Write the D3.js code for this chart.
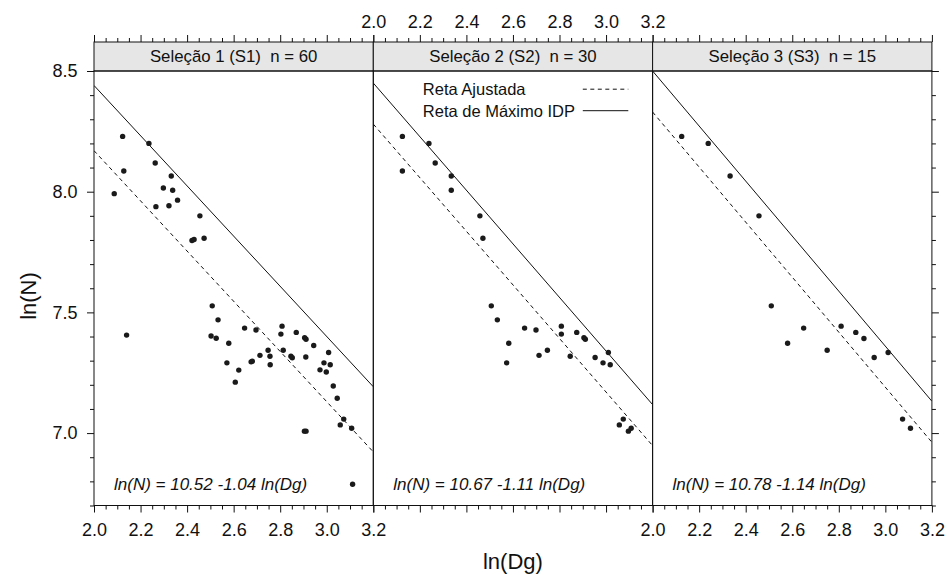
<!DOCTYPE html>
<html>
<head>
<meta charset="utf-8">
<script src="https://cdn.jsdelivr.net/npm/d3@7"></script>
<style>
  body { margin: 0; background: #fff; }
  svg text { font-family: Arial, "Liberation Sans", sans-serif; fill: #111; }
</style>
</head>
<body>
<svg id="chart" width="949" height="575"></svg>
<script>

var stripLabels = ["Seleção 1 (S1)  n = 60", "Seleção 2 (S2)  n = 30", "Seleção 3 (S3)  n = 15"];
var equations = ["ln(N) = 10.52 -1.04 ln(Dg)", "ln(N) = 10.67 -1.11 ln(Dg)", "ln(N) = 10.78 -1.14 ln(Dg)"];
var legendLabels = ["Reta Ajustada", "Reta de Máximo IDP"];

// intercepts / slopes of the two lines per panel
var slopes = [-1.04, -1.11, -1.14];
var maxIntercepts = [10.52, 10.67, 10.78];
var fitIntercepts = [10.25, 10.50, 10.61];

var xDomain = [2.0, 3.2];
var yDomain = [6.7, 8.5];
var xTicks = [2.0, 2.2, 2.4, 2.6, 2.8, 3.0, 3.2];
var yTicks = [7.0, 7.5, 8.0, 8.5];

var s1Dg = [2.123, 2.236, 2.263, 2.128, 2.332, 2.298, 2.338, 2.087, 2.359, 2.266, 2.322, 2.455, 2.421, 2.430, 2.473,
            2.508, 2.140, 2.533, 2.647, 2.696, 2.808, 2.803, 2.869, 2.905, 2.911, 2.944, 2.503, 2.525, 2.579, 3.008,
            2.748, 2.813, 2.713, 2.756, 2.846, 2.852, 2.910, 2.571, 2.622, 2.607, 2.675, 2.680, 2.757, 2.988, 3.015,
            2.971, 2.998, 3.028, 3.045, 3.073, 3.058, 3.107, 2.904, 2.911, 3.111];
var s1N = [8.229, 8.200, 8.119, 8.086, 8.065, 8.015, 8.006, 7.992, 7.965, 7.938, 7.942, 7.900, 7.798, 7.802, 7.807,
           7.527, 7.406, 7.469, 7.435, 7.427, 7.443, 7.410, 7.417, 7.395, 7.389, 7.363, 7.402, 7.393, 7.372, 7.334,
           7.343, 7.343, 7.322, 7.318, 7.318, 7.312, 7.315, 7.291, 7.261, 7.211, 7.295, 7.298, 7.283, 7.291, 7.283,
           7.262, 7.253, 7.195, 7.144, 7.058, 7.034, 7.020, 7.008, 7.008, 6.788];

var s2Dg = [2.125, 2.239, 2.266, 2.125, 2.335, 2.335, 2.458, 2.471, 2.507, 2.533, 2.650, 2.699, 2.808, 2.808, 2.874,
            2.905, 2.911, 2.582, 3.010, 2.712, 2.748, 2.846, 2.953, 2.573, 2.987, 3.018, 3.074, 3.057, 3.108, 3.096];
var s2N = [8.229, 8.200, 8.119, 8.086, 8.065, 8.006, 7.900, 7.807, 7.527, 7.469, 7.435, 7.427, 7.443, 7.410, 7.417,
           7.395, 7.389, 7.372, 7.334, 7.322, 7.343, 7.318, 7.313, 7.291, 7.291, 7.283, 7.058, 7.034, 7.020, 7.008];

var s3Dg = [2.125, 2.239, 2.333, 2.457, 2.510, 2.649, 2.810, 2.873, 2.908, 2.580, 3.012, 2.750, 2.952, 3.074, 3.108];
var s3N = [8.229, 8.200, 8.065, 7.900, 7.527, 7.435, 7.443, 7.417, 7.392, 7.372, 7.334, 7.343, 7.313, 7.058, 7.020];

var dgSeries = [s1Dg, s2Dg, s3Dg];
var nSeries = [s1N, s2N, s3N];

// layout
var left = 94, panelW = 279.3;
var stripTop = 42, plotTop = 71, plotBottom = 505.5;
var majorLen = 7, minorLen = 4;

var svg = d3.select("#chart");

var y = d3.scaleLinear().domain(yDomain).range([plotBottom, plotTop]);

var xMinor = d3.range(0, 25).map(function(i) { return 2.0 + i * 0.05; })
    .filter(function(v) { return Math.abs(v * 5 - Math.round(v * 5)) > 1e-6; });
var yMinor = d3.range(0, 19).map(function(i) { return 6.7 + i * 0.1; })
    .filter(function(v) { return Math.abs(v * 2 - Math.round(v * 2)) > 1e-6; });

var fmt = d3.format(".1f");

function cleanAxis(g) {
    g.select(".domain").remove();
    g.selectAll(".tick line").attr("stroke", "#111");
    g.selectAll(".tick text").attr("font-size", "18px").attr("fill", "#111");
}

svg.append("defs").selectAll("clipPath")
    .data(stripLabels)
    .enter().append("clipPath")
    .attr("id", function(d, i) { return "clip" + i; })
    .append("rect")
    .attr("x", function(d, i) { return left + i * panelW; })
    .attr("y", plotTop)
    .attr("width", panelW)
    .attr("height", plotBottom - plotTop);

stripLabels.forEach(function(label, i) {
    var x0 = left + i * panelW;
    var x = d3.scaleLinear().domain(xDomain).range([x0, x0 + panelW]);
    var g = svg.append("g").attr("class", "panel");

    // strip
    g.append("rect")
        .attr("x", x0).attr("y", stripTop)
        .attr("width", panelW).attr("height", plotTop - stripTop)
        .attr("fill", "#e6e6e6").attr("stroke", "#111").attr("stroke-width", 1);
    g.append("text")
        .attr("x", x0 + panelW / 2).attr("y", plotTop - 9)
        .attr("text-anchor", "middle")
        .attr("font-size", "16.8px")
        .style("white-space", "pre")
        .text(label);

    // lines
    var lineG = g.append("g").attr("clip-path", "url(#clip" + i + ")");
    lineG.append("line")
        .attr("x1", x(xDomain[0])).attr("y1", y(maxIntercepts[i] + slopes[i] * xDomain[0]))
        .attr("x2", x(xDomain[1])).attr("y2", y(maxIntercepts[i] + slopes[i] * xDomain[1]))
        .attr("stroke", "#111").attr("stroke-width", 1);
    lineG.append("line")
        .attr("x1", x(xDomain[0])).attr("y1", y(fitIntercepts[i] + slopes[i] * xDomain[0]))
        .attr("x2", x(xDomain[1])).attr("y2", y(fitIntercepts[i] + slopes[i] * xDomain[1]))
        .attr("stroke", "#111").attr("stroke-width", 1)
        .attr("stroke-dasharray", "4,3.5");

    // points
    g.selectAll("circle")
        .data(dgSeries[i].map(function(d, j) { return [d, nSeries[i][j]]; }))
        .enter().append("circle")
        .attr("cx", function(d) { return x(d[0]); })
        .attr("cy", function(d) { return y(d[1]); })
        .attr("r", 2.7)
        .attr("fill", "#1a1a1a");

    // equation
    g.append("text")
        .attr("x", x0 + 20).attr("y", 490)
        .attr("font-size", "17px")
        .attr("font-style", "italic")
        .text(equations[i]);

    // panel border
    g.append("rect")
        .attr("x", x0).attr("y", plotTop)
        .attr("width", panelW).attr("height", plotBottom - plotTop)
        .attr("fill", "none").attr("stroke", "#111").attr("stroke-width", 1);

    // bottom axis (labels on panels 1 and 3)
    g.append("g").attr("transform", "translate(0," + plotBottom + ")")
        .call(d3.axisBottom(x).tickValues(xTicks).tickSize(majorLen).tickPadding(11)
            .tickFormat(i === 1 ? "" : fmt))
        .call(cleanAxis);
    g.append("g").attr("transform", "translate(0," + plotBottom + ")")
        .call(d3.axisBottom(x).tickValues(xMinor).tickSize(minorLen).tickFormat(""))
        .call(cleanAxis);

    // top axis (labels on panel 2)
    g.append("g").attr("transform", "translate(0," + stripTop + ")")
        .call(d3.axisTop(x).tickValues(xTicks).tickSize(majorLen).tickPadding(7)
            .tickFormat(i === 1 ? fmt : ""))
        .call(cleanAxis);
    g.append("g").attr("transform", "translate(0," + stripTop + ")")
        .call(d3.axisTop(x).tickValues(xMinor).tickSize(minorLen).tickFormat(""))
        .call(cleanAxis);

    if (i === 0) {
        g.append("g").attr("transform", "translate(" + x0 + ",0)")
            .call(d3.axisLeft(y).tickValues(yTicks).tickSize(majorLen).tickPadding(9.5).tickFormat(fmt))
            .call(cleanAxis);
        g.append("g").attr("transform", "translate(" + x0 + ",0)")
            .call(d3.axisLeft(y).tickValues(yMinor).tickSize(minorLen).tickFormat(""))
            .call(cleanAxis);
    }
    if (i === 2) {
        g.append("g").attr("transform", "translate(" + (x0 + panelW) + ",0)")
            .call(d3.axisRight(y).tickValues(yTicks).tickSize(majorLen).tickFormat(""))
            .call(cleanAxis);
        g.append("g").attr("transform", "translate(" + (x0 + panelW) + ",0)")
            .call(d3.axisRight(y).tickValues(yMinor).tickSize(minorLen).tickFormat(""))
            .call(cleanAxis);
    }

    // legend in middle panel
    if (i === 1) {
        var leg = g.append("g");
        var legY = [95, 116.5];
        leg.selectAll("text")
            .data(legendLabels)
            .enter().append("text")
            .attr("x", x0 + 49.5)
            .attr("y", function(d, k) { return legY[k]; })
            .attr("font-size", "16.5px")
            .text(function(d) { return d; });
        leg.selectAll("line")
            .data(legendLabels)
            .enter().append("line")
            .attr("x1", x0 + 209.5).attr("x2", x0 + 255)
            .attr("y1", function(d, k) { return legY[k] - 5.8; })
            .attr("y2", function(d, k) { return legY[k] - 5.8; })
            .attr("stroke", "#111").attr("stroke-width", 1)
            .attr("stroke-dasharray", function(d, k) { return k === 0 ? "4,3.5" : null; });
    }
});

// axis titles
svg.append("text")
    .attr("x", left + 1.5 * panelW).attr("y", 569)
    .attr("text-anchor", "middle")
    .attr("font-size", "22px")
    .text("ln(Dg)");

svg.append("text")
    .attr("transform", "translate(36,296) rotate(-90)")
    .attr("text-anchor", "middle")
    .attr("font-size", "22px")
    .text("ln(N)");

</script>
</body>
</html>
